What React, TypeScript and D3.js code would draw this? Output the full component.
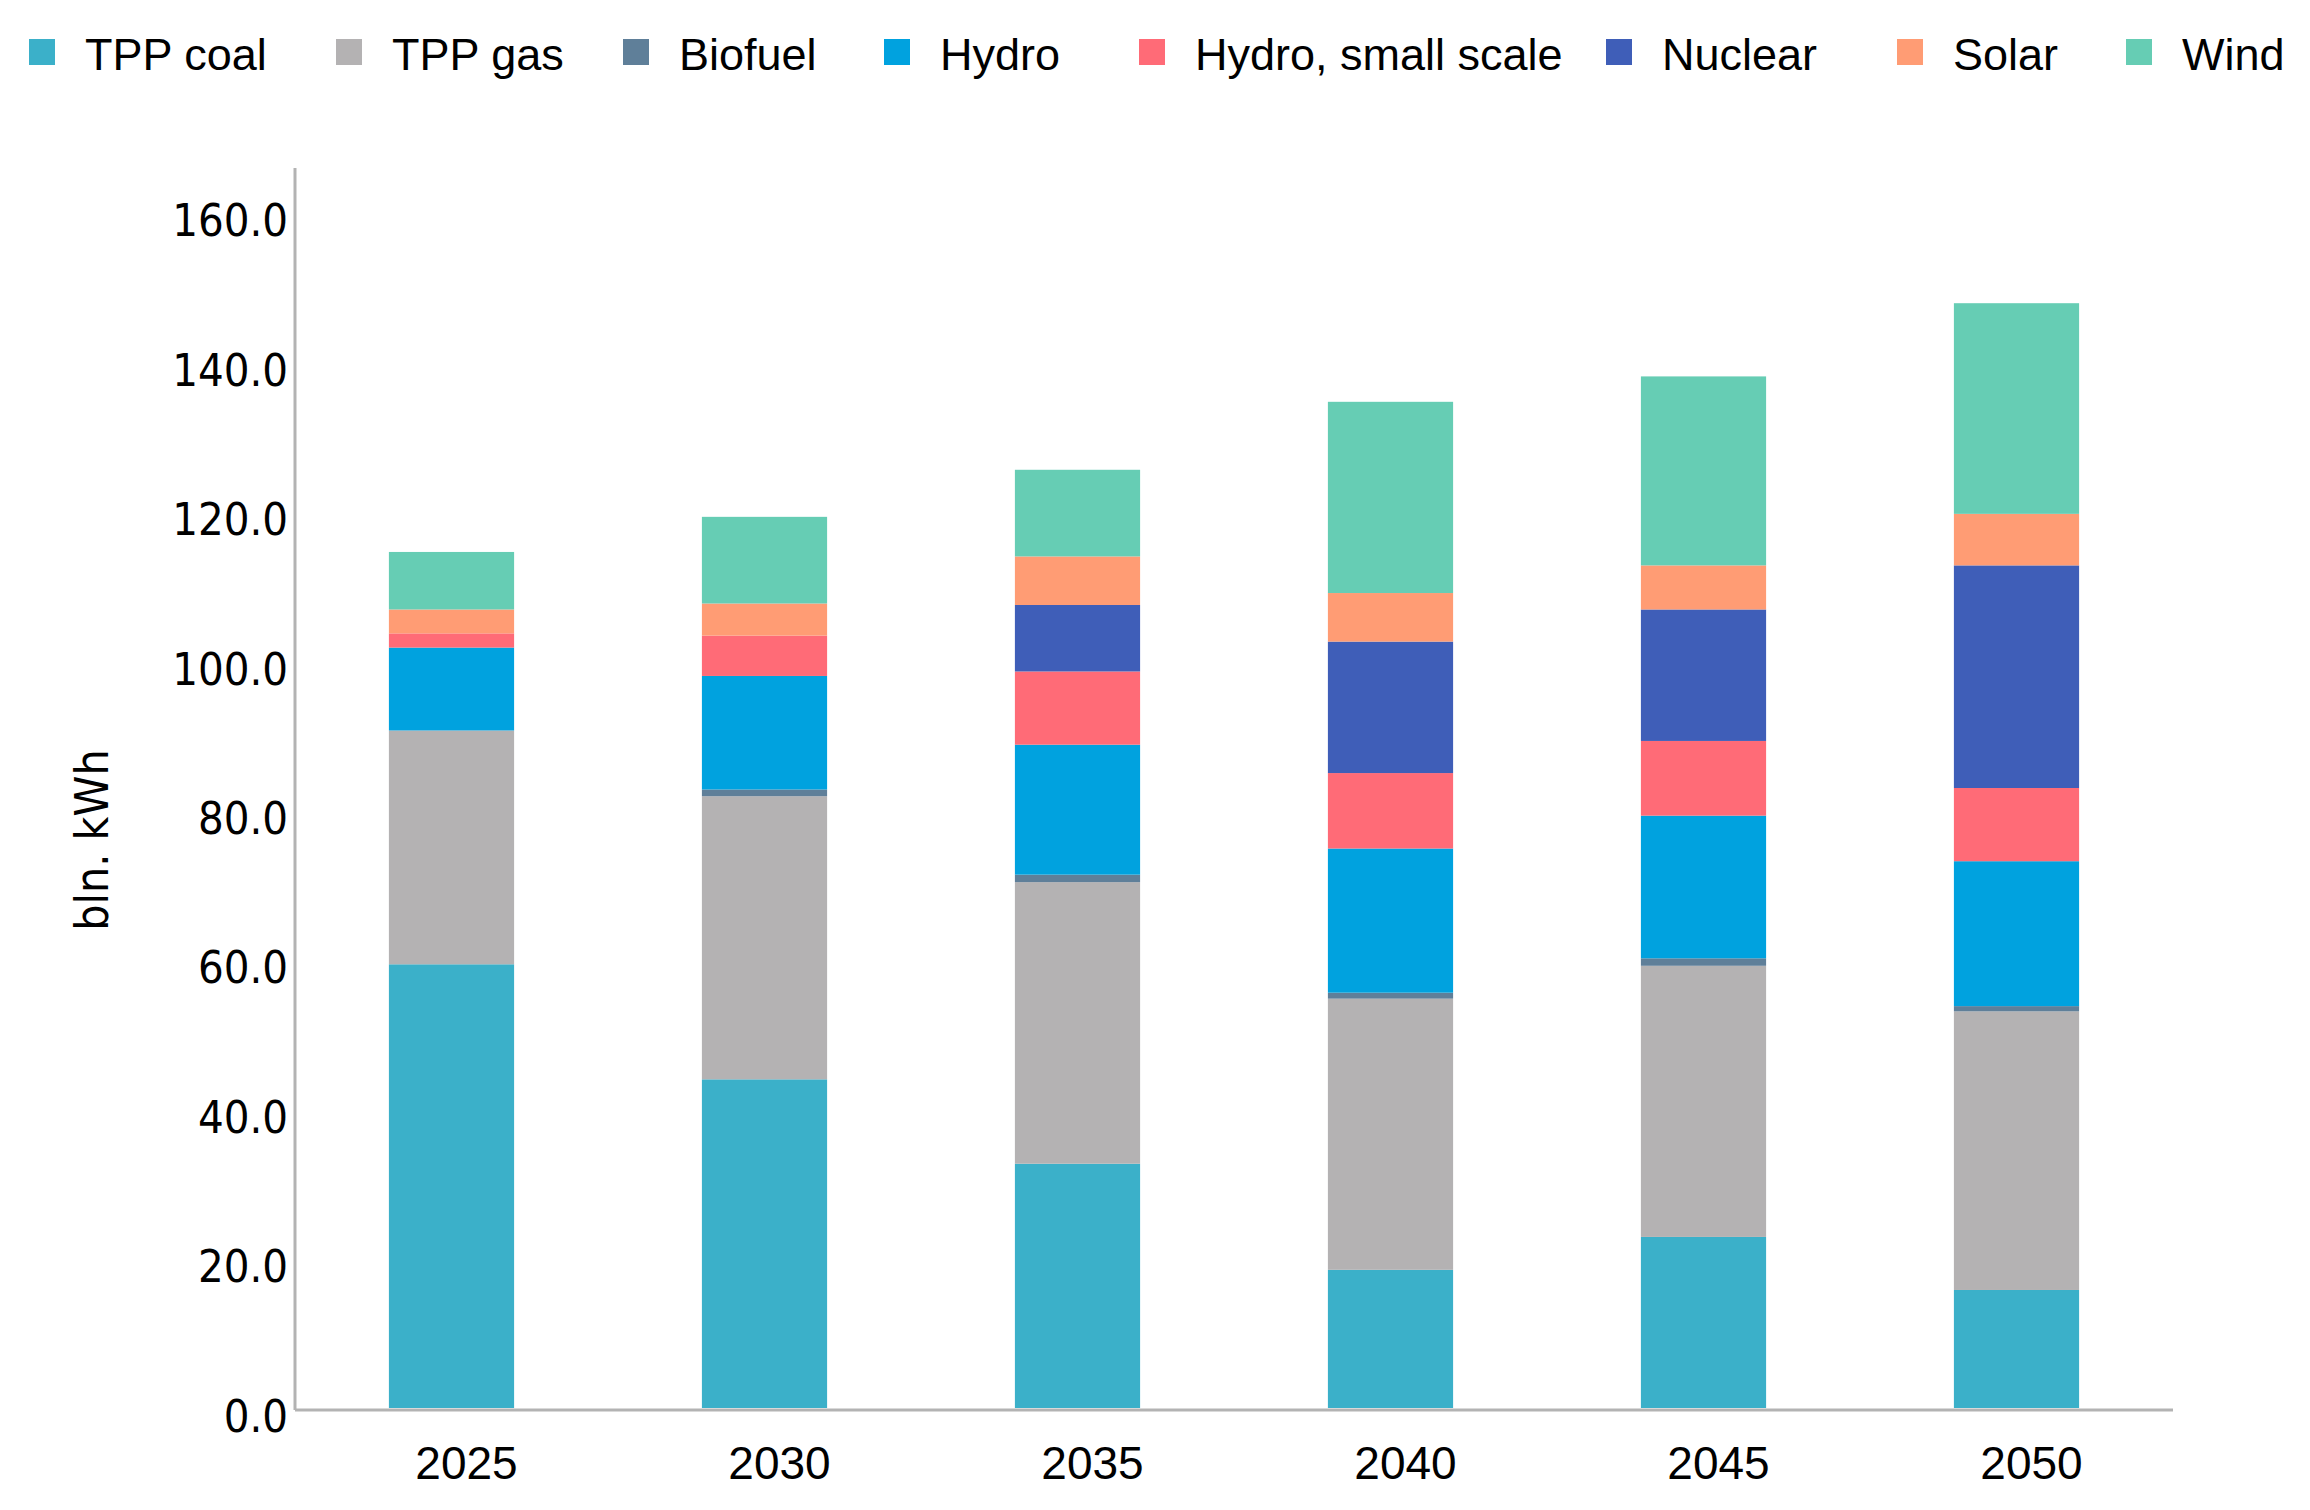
import React, { useEffect } from "react";
import * as d3 from "d3";

const years = ["2025", "2030", "2035", "2040", "2045", "2050"];
const seriesNames = [
  "TPP coal",
  "TPP gas",
  "Biofuel",
  "Hydro",
  "Hydro, small scale",
  "Nuclear",
  "Solar",
  "Wind",
];
const coal = [59.4, 44.0, 32.7, 18.5, 22.9, 15.8];
const gas = [31.3, 37.9, 37.7, 36.3, 36.3, 37.3];
const biofuel = [0, 0.9, 1.0, 0.8, 1.0, 0.7];
const hydro = [11.1, 15.2, 17.4, 19.3, 19.1, 19.4];
const hydroSmall = [1.9, 5.4, 9.8, 10.1, 10.0, 9.8];
const nuclear = [0, 0, 8.9, 17.6, 17.6, 29.8];
const solar = [3.2, 4.3, 6.5, 6.5, 5.9, 6.9];
const wind = [7.7, 11.6, 11.6, 25.6, 25.3, 28.2];
const yTicks = [0, 20, 40, 60, 80, 100, 120, 140, 160];

const colors = [
  "#3bb0c9",
  "#b4b2b3",
  "#5f7f99",
  "#00a2df",
  "#ff6b77",
  "#3f5eb8",
  "#ff9c74",
  "#66cdb4",
];

// legend columns (left edge of each marker), like the source layout
const legendX = [29, 336, 623, 884, 1139, 1606, 1897, 2126];

const W = 2310;
const H = 1510;
const margin = { top: 168, right: 137, bottom: 102, left: 295 };

const sans = '"Liberation Sans", Arial, sans-serif';
const wide = '"DejaVu Sans Condensed", "DejaVu Sans", Verdana, sans-serif';

export default function App() {
  useEffect(() => {
    document.body.style.margin = "0";
  }, []);

  const allSeries = [coal, gas, biofuel, hydro, hydroSmall, nuclear, solar, wind];
  const rows = years.map((yr, i) => {
    const r: any = { year: yr };
    seriesNames.forEach((n, k) => (r[n] = allSeries[k][i]));
    return r;
  });
  const stacked = d3.stack<any>().keys(seriesNames)(rows);

  const x = d3
    .scaleBand()
    .domain(years)
    .range([margin.left, W - margin.right])
    .paddingInner(0.6)
    .paddingOuter(0.3);
  const y = d3
    .scaleLinear()
    .domain([0, 166])
    .range([H - margin.bottom, margin.top]);

  const fmt = d3.format(".1f");
  const axisColor = "#b3b3b3";

  return (
    <svg width={W} height={H} style={{ display: "block", background: "#fff" }}>
      {/* legend */}
      <g>
        {seriesNames.map((n, k) => (
          <g key={n} transform={`translate(${legendX[k]},0)`}>
            <rect x={0} y={39} width={26} height={26} fill={colors[k]} />
            <text
              x={56}
              y={54}
              dominantBaseline="central"
              fontFamily={sans}
              fontSize={45}
              fill="#000"
            >
              {n}
            </text>
          </g>
        ))}
      </g>

      {/* bars */}
      {stacked.map((s, k) => (
        <g key={s.key} fill={colors[k]}>
          {s.map((d, i) => (
            <rect
              key={i}
              x={x(years[i])}
              width={x.bandwidth()}
              y={y(d[1])}
              height={Math.max(0, y(d[0]) - y(d[1]))}
            />
          ))}
        </g>
      ))}

      {/* axes */}
      <line
        x1={margin.left}
        x2={margin.left}
        y1={margin.top}
        y2={y(0) + 2}
        stroke={axisColor}
        strokeWidth={3}
      />
      <line
        x1={margin.left}
        x2={W - margin.right}
        y1={y(0) + 2}
        y2={y(0) + 2}
        stroke={axisColor}
        strokeWidth={3}
      />

      {yTicks.map((t) => (
        <text
          key={t}
          x={margin.left - 7}
          y={y(t) + 8}
          textAnchor="end"
          dominantBaseline="central"
          fontFamily={wide}
          fontStretch="condensed"
          fontSize={45}
          fill="#000"
        >
          {fmt(t)}
        </text>
      ))}

      {/* category labels sit a little right of the bar centres in the source */}
      {years.map((yr) => (
        <text
          key={yr}
          x={(x(yr) as number) + x.bandwidth() / 2 + 15}
          y={1463}
          textAnchor="middle"
          dominantBaseline="central"
          fontFamily={sans}
          fontSize={46}
          fill="#000"
        >
          {yr}
        </text>
      ))}

      <text
        transform={`translate(92,840) rotate(-90)`}
        textAnchor="middle"
        dominantBaseline="central"
        fontFamily={wide}
        fontStretch="condensed"
        fontSize={46}
        fill="#000"
      >
        bln. kWh
      </text>
    </svg>
  );
}
